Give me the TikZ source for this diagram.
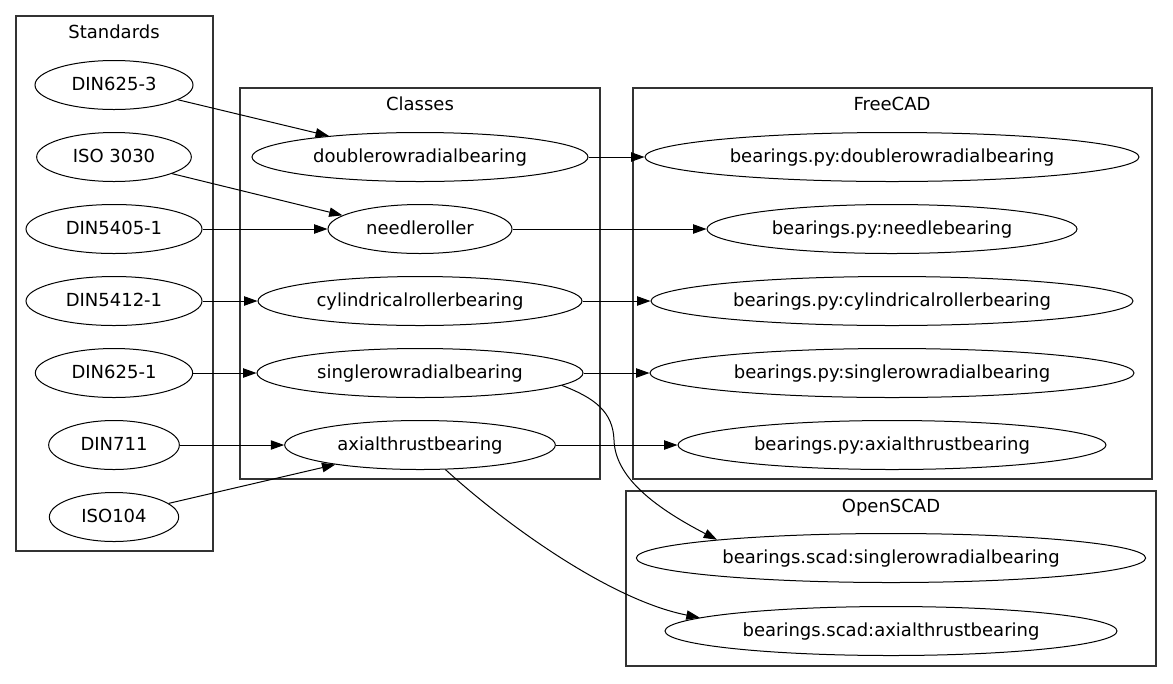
\documentclass[tikz,border=0pt]{standalone}
\usepackage{fontspec}
\setmainfont{DejaVu Sans}
\usetikzlibrary{arrows.meta,shapes.geometric}

\begin{document}
\begin{tikzpicture}[x=0.75pt,y=-0.75pt,
    bear/.style={ellipse,draw,line width=0.75pt,inner sep=0pt,minimum height=36.75pt,
      text height=11pt,text depth=3pt,font=\fontsize{13.5pt}{16pt}\selectfont},
    group/.style={draw=black!80,line width=1pt},
    grouplabel/.style={text height=11pt,text depth=3pt,font=\fontsize{13.5pt}{16pt}\selectfont},
    link/.style={line width=0.75pt,-{Triangle[length=10pt,width=7pt]}}]
    \useasboundingbox (0,0) rectangle (1173,683);

    % clusters
    \draw[group] (16,16) rectangle (213,551);
    \node[grouplabel] (lstd) at (114,33) {Standards};
    \draw[group] (240,88) rectangle (600,479);
    \node[grouplabel] (lcls) at (420,105) {Classes};
    \draw[group] (633,88) rectangle (1152,479);
    \node[grouplabel] (lfc) at (892,105) {FreeCAD};
    \draw[group] (626,491) rectangle (1156,666);
    \node[grouplabel] (losc) at (891,507) {OpenSCAD};

    % standards
    \node[bear,minimum width=118.5pt] (din6253) at (114,85) {DIN625-3};
    \node[bear,minimum width=116pt] (iso3030) at (114,157) {ISO 3030};
    \node[bear,minimum width=132pt] (din54051) at (114,229) {DIN5405-1};
    \node[bear,minimum width=132pt] (din54121) at (114,301) {DIN5412-1};
    \node[bear,minimum width=118pt] (din6251) at (114,373) {DIN625-1};
    \node[bear,minimum width=98pt] (din711) at (114,445) {DIN711};
    \node[bear,minimum width=97pt] (iso104) at (114,517) {ISO104};

    % classes
    \node[bear,minimum width=252pt] (dbl) at (420,157) {doublerowradialbearing};
    \node[bear,minimum width=138pt] (ndl) at (420,229) {needleroller};
    \node[bear,minimum width=243pt] (cyl) at (420,301) {cylindricalrollerbearing};
    \node[bear,minimum width=244.5pt] (sgl) at (420,373) {singlerowradialbearing};
    \node[bear,minimum width=203pt] (axl) at (420,445) {axialthrustbearing};

    % freecad
    \node[bear,minimum width=370.5pt] (fcdbl) at (892,157) {bearings.py:doublerowradialbearing};
    \node[bear,minimum width=277.5pt] (fcndl) at (892,229) {bearings.py:needlebearing};
    \node[bear,minimum width=361.5pt] (fccyl) at (892,301) {bearings.py:cylindricalrollerbearing};
    \node[bear,minimum width=363pt] (fcsgl) at (892,373) {bearings.py:singlerowradialbearing};
    \node[bear,minimum width=321pt] (fcaxl) at (892,445) {bearings.py:axialthrustbearing};

    % openscad
    \node[bear,minimum width=382pt] (oscsgl) at (891,558) {bearings.scad:singlerowradialbearing};
    \node[bear,minimum width=339pt] (oscaxl) at (891,631) {bearings.scad:axialthrustbearing};

    % standards -> classes
    \draw[link] (din6253.-13) -- (dbl.167);
    \draw[link] (iso3030.-16) -- (ndl.170);
    \draw[link] (din54051) -- (ndl);
    \draw[link] (din54121) -- (cyl);
    \draw[link] (din6251) -- (sgl);
    \draw[link] (din711) -- (axl);
    \draw[link] (iso104.14) -- (axl.-167);

    % classes -> implementations
    \draw[link] (dbl) -- (fcdbl);
    \draw[link] (ndl) -- (fcndl);
    \draw[link] (cyl) -- (fccyl);
    \draw[link] (sgl) -- (fcsgl);
    \draw[link] (axl) -- (fcaxl);
    \draw[link] (sgl.-5) .. controls (595,398) and (613,412) .. (614,440)
      .. controls (615,475) and (650,505) .. (oscsgl.174);
    \draw[link] (axl.-44) .. controls (505,524) and (610,600) .. (oscaxl.176);
\end{tikzpicture}
\end{document}
